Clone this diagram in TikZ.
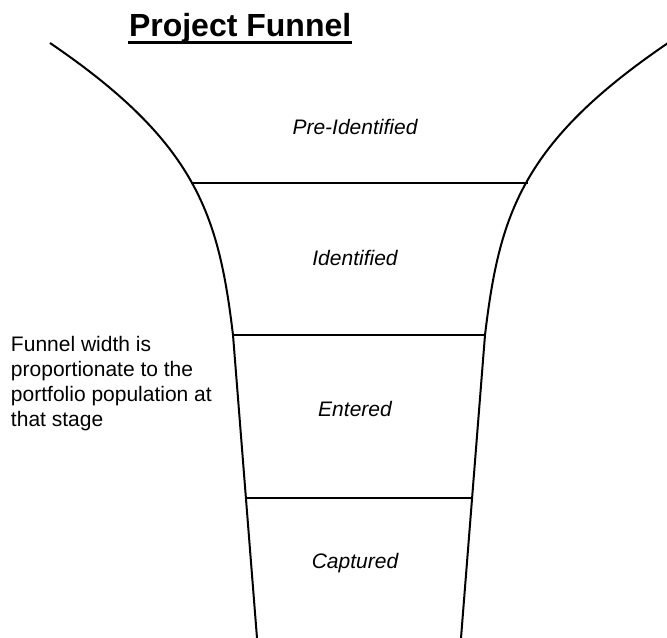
\documentclass[tikz,border=0pt]{standalone}
\usepackage{fontspec}
\setmainfont{Liberation Sans}

\tikzset{every picture/.style={line width=1.5pt}}

\begin{document}
\begin{tikzpicture}[x=0.75pt,y=0.75pt,yscale=-1,xscale=1]
\useasboundingbox (0,0) rectangle (667,638);

%Curve: funnel left side [id:lside]
\draw    (50,43) .. controls (197,143) and (218.6,215) .. (233,335) -- (257,638) ;
%Curve: funnel right side [id:rside]
\draw    (668,43) .. controls (521,143) and (499.4,215) .. (485,335) -- (461,638) ;

%Stage borders
\coordinate (b1l) at (190.5,183) ; \coordinate (b1r) at (527.5,183) ;
\coordinate (b2l) at (233,335) ; \coordinate (b2r) at (485,335) ;
\coordinate (b3l) at (246,498) ; \coordinate (b3r) at (472,498) ;
%Straight Lines [id:border1]
\draw    (b1l) -- (b1r) ;
%Straight Lines [id:border2]
\draw    (b2l) -- (b2r) ;
%Straight Lines [id:border3]
\draw    (b3l) -- (b3r) ;

% Text Node
\draw (128,37) node (title) [anchor=base west][inner sep=0pt]  {\fontsize{24}{28}\selectfont\bfseries Project Funnel};
\draw [line width=2.2pt]  ([yshift=3.9pt]title.base west) -- ([yshift=3.9pt]title.base east) ;
% Text Node
\draw (355,135) node (preid) [anchor=base][inner sep=0pt]  {\fontsize{15.75}{18.75}\selectfont\itshape Pre-Identified};
% Text Node
\draw (355,265) node (ident) [anchor=base][inner sep=0pt]  {\fontsize{15.75}{18.75}\selectfont\itshape Identified};
% Text Node
\draw (355,416) node (enter) [anchor=base][inner sep=0pt]  {\fontsize{15.75}{18.75}\selectfont\itshape Entered};
% Text Node
\draw (355,568) node (captr) [anchor=base][inner sep=0pt]  {\fontsize{15.75}{18.75}\selectfont\itshape Captured};
% Text Node
\draw (10,335) node (note) [anchor=north west][inner sep=0pt]  [align=left,font=\fontsize{15.75}{18.75}\selectfont] {Funnel width is\\proportionate to the\\portfolio population at\\that stage};

\end{tikzpicture}
\end{document}
